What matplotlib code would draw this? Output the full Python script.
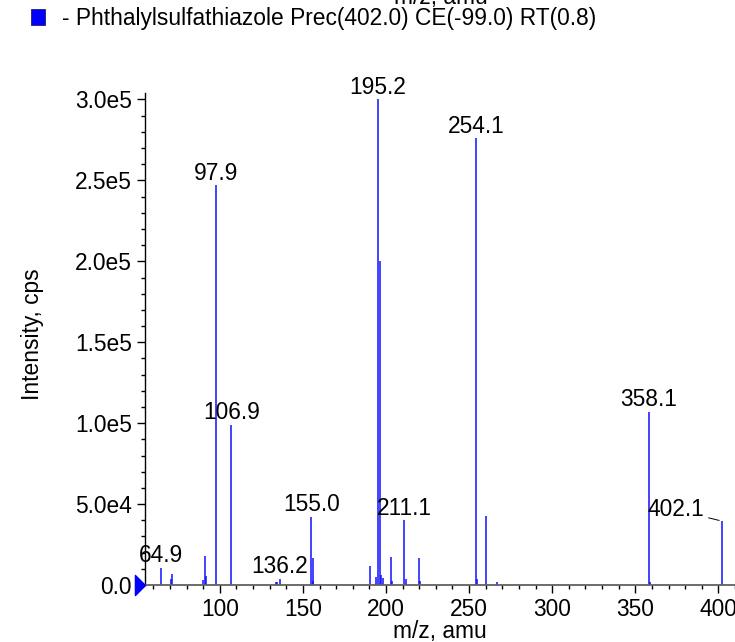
import matplotlib
matplotlib.use("Agg")
import matplotlib.pyplot as plt
from matplotlib.path import Path
from matplotlib.ticker import MultipleLocator, FuncFormatter

plt.rcParams['font.family'] = ['Liberation Sans', 'DejaVu Sans']

# peak list (m/z, intensity in cps)
mz = [64.9, 70.9, 71.2, 90.0, 91.2, 92.0, 97.9, 106.9, 133.9, 134.4, 136.2,
      155.0, 155.9, 156.3, 190.3, 193.9, 195.2, 196.2, 196.9, 198.0, 203.0,
      203.4, 211.1, 211.9, 220.0, 220.4, 254.1, 255.0, 260.0, 266.7, 358.1,
      358.9, 402.1]
intensity = [1.05e4, 4.0e3, 6.8e3, 3.0e3, 1.79e4, 5.5e3, 2.47e5, 9.9e4, 2.0e3,
             2.0e3, 3.7e3, 4.2e4, 1.67e4, 2.5e3, 1.2e4, 5.0e3, 3.0e5, 2.0e5,
             6.0e3, 4.3e3, 1.73e4, 2.5e3, 4.0e4, 3.7e3, 1.67e4, 2.5e3, 2.76e5,
             3.7e3, 4.26e4, 2.0e3, 1.07e5, 2.0e3, 3.95e4]
labelled = [64.9, 97.9, 106.9, 136.2, 155.0, 195.2, 211.1, 254.1, 358.1, 402.1]

legend_text = "- Phthalylsulfathiazole Prec(402.0) CE(-99.0) RT(0.8)"
fs = 16.4

fig = plt.figure(figsize=(7.35, 6.42), dpi=100)
ax = fig.add_axes([145 / 735, 57 / 642, 590 / 735, 492 / 642])

ax.vlines(mz, 0, intensity, color='#1010ff', lw=1.1)

ax.set_xlim(55, 410)
ax.set_ylim(0, 3.04e5)

for m, i in zip(mz, intensity):
    if m not in labelled:
        continue
    if m == 402.1:
        ax.annotate(f"{m:.1f}", (m, i), xytext=(-33, 8), textcoords='offset points',
                    ha='center', va='center', fontsize=fs,
                    arrowprops=dict(arrowstyle='-', color='black', lw=0.7,
                                    shrinkA=1, shrinkB=2))
    else:
        ax.annotate(f"{m:.1f}", (m, i), xytext=(0, 4), textcoords='offset points',
                    ha='center', va='baseline', fontsize=fs)

# zero marker on the y axis
tri = Path([(-1, -1), (0, 0), (-1, 1), (-1, -1)],
           [Path.MOVETO, Path.LINETO, Path.LINETO, Path.CLOSEPOLY])
ax.plot([55], [0], marker=tri, markersize=14.5, color='blue', clip_on=False, zorder=5)

for s in ['top', 'right']:
    ax.spines[s].set_visible(False)
ax.spines['bottom'].set_color('#606060')
ax.spines['bottom'].set_linewidth(1.3)
ax.spines['left'].set_linewidth(1.0)

ax.xaxis.set_major_locator(MultipleLocator(50))
ax.xaxis.set_minor_locator(MultipleLocator(10))
ax.yaxis.set_major_locator(MultipleLocator(5e4))
ax.yaxis.set_minor_locator(MultipleLocator(1e4))


def sci(v, pos):
    if v == 0:
        return "0.0"
    e = len(str(int(v))) - 1
    return f"{v / 10 ** e:.1f}e{e}"


ax.yaxis.set_major_formatter(FuncFormatter(sci))
ax.tick_params(axis='both', which='major', length=6, width=1, labelsize=fs, pad=3.5)
ax.tick_params(axis='both', which='minor', length=3, width=1)

ax.set_xlabel("m/z, amu", fontsize=fs)
ax.set_ylabel("Intensity, cps", fontsize=fs)
ax.xaxis.set_label_coords(0.5, -0.072)
ax.yaxis.set_label_coords(-0.172, 0.51)

# legend entry
fig.patches.append(plt.Rectangle((31 / 735, 1 - 25 / 642), 14 / 735, 16 / 642,
                                  transform=fig.transFigure, facecolor='blue',
                                  edgecolor='#202060', lw=0.6))
fig.text(62 / 735, 1 - 18 / 642, legend_text, fontsize=fs, va='center', ha='left')
# clipped axis label of the panel above
fig.text(441 / 735, 1 - 4 / 642, "m/z, amu", fontsize=fs, va='baseline', ha='center')

fig.savefig("out.png", dpi=100)
